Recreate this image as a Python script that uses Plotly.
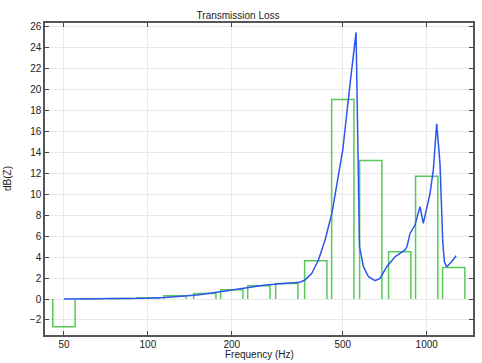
import plotly.graph_objects as go

# 1/3-octave band levels (green outlined bars)
band_centers = [50, 63, 80, 100, 125, 160, 200, 250, 315, 400, 500, 630, 800, 1000, 1250]
band_values = [-2.65, 0.02, 0.04, 0.12, 0.3, 0.52, 0.88, 1.27, 1.47, 3.65, 19.0, 13.2, 4.5, 11.7, 3.0]

# Narrow-band transmission loss (blue curve)
freq = [50, 63, 80, 100, 115, 130, 150, 172, 200, 226, 260, 298, 330, 351, 366, 387, 409,
        432, 457, 482, 500, 531, 558, 574, 593, 618, 653, 680, 719, 770, 836, 850, 871,
        908, 946, 972, 1000, 1028, 1056, 1086, 1116, 1141, 1157, 1179, 1229, 1274]
tl = [0.0, 0.01, 0.03, 0.08, 0.14, 0.22, 0.38, 0.6, 0.88, 1.12, 1.32, 1.45, 1.52, 1.6, 1.81,
      2.45, 3.71, 5.62, 8.16, 11.65, 14.2, 20.5, 25.4, 5.0, 3.08, 2.12, 1.74, 1.97, 3.08, 4.03,
      4.67, 5.0, 6.25, 7.05, 8.8, 7.2, 8.8, 10.07, 12.3, 16.7, 12.9, 5.6, 3.55, 3.08, 3.55, 4.12]

x_ticks = [50, 100, 200, 500, 1000]
y_ticks = list(range(-2, 27, 2))

half = 10 ** 0.04  # bar half-width factor (log scale)
bx, by = [], []
for c, v in zip(band_centers, band_values):
    lo, hi = c / half, c * half
    bx += [lo, lo, hi, hi, None]
    by += [0, v, v, 0, None]

fig = go.Figure()
fig.add_trace(go.Scatter(x=bx, y=by, mode="lines",
                         line=dict(color="rgb(90,200,90)", width=1.5),
                         showlegend=False, hoverinfo="skip"))
fig.add_trace(go.Scatter(x=freq, y=tl, mode="lines",
                         line=dict(color="rgb(45,85,240)", width=1.5),
                         showlegend=False))

font = dict(family="Liberation Sans, Arial, sans-serif", size=10, color="#222")
fig.update_layout(
    width=482, height=363,
    margin=dict(l=45, r=9, t=23, b=28, autoexpand=False),
    paper_bgcolor="white", plot_bgcolor="white",
    font=font,
    title=dict(text="Transmission Loss", x=0.494, xref="container", xanchor="center",
               y=1 - 15.5 / 363, yref="container", yanchor="middle",
               font=dict(size=10, color="#222")),
    annotations=[
        dict(text="Frequency (Hz)", xref="paper", yref="paper", x=0.5, y=-(354.5 - 335) / 312,
             xanchor="center", yanchor="middle", showarrow=False, font=dict(size=10)),
        dict(text="dB(Z)", xref="paper", yref="paper", x=-(45 - 7) / 428, y=0.5,
             xanchor="center", yanchor="middle", showarrow=False, textangle=-90,
             font=dict(size=10)),
    ],
)
fig.update_xaxes(
    type="log", range=[1.631, 3.166], automargin=False,
    tickvals=x_ticks, ticktext=[str(t) for t in x_ticks],
    showgrid=True, gridcolor="#e8e8e8", gridwidth=1,
    showline=True, linecolor="#555", linewidth=1.5, mirror="ticks",
    ticks="inside", ticklen=4, tickcolor="#444", ticklabelstandoff=-1,
    zeroline=False,
)
fig.update_yaxes(
    range=[-3.43, 26.3], automargin=False,
    tickvals=y_ticks,
    showgrid=True, gridcolor="#e8e8e8", gridwidth=1,
    showline=True, linecolor="#555", linewidth=1.5, mirror="ticks",
    ticks="inside", ticklen=4, tickcolor="#444",
    zeroline=False,
)
fig.write_html("out.html", config={"displayModeBar": False},
               post_script="document.body.style.margin='0';document.body.style.overflow='hidden';")
